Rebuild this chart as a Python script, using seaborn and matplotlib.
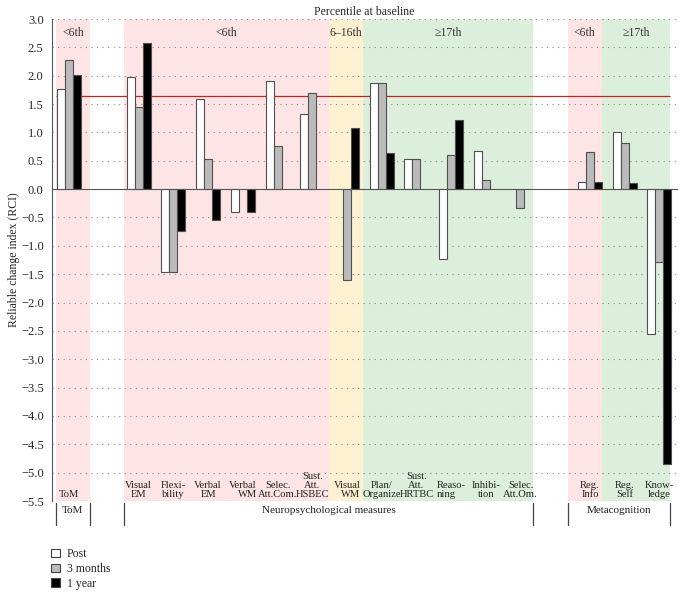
import matplotlib
matplotlib.use("Agg")
import matplotlib.pyplot as plt
import matplotlib.transforms as mtransforms
from matplotlib.patches import Patch
import seaborn as sns
import numpy as np
import pandas as pd

# -------------------------
# Data
# -------------------------
measures = ["ToM", "gap1", "Visual EM", "Flexibility", "Verbal EM", "Verbal WM",
            "Selec. Att.Com.", "Sust. Att. HSBEC", "Visual WM", "Plan/Organize",
            "Sust. Att. HRTBC", "Reasoning", "Inhibition", "Selec. Att.Om.",
            "gap2", "Reg. Info", "Reg. Self", "Knowledge"]
measure_labels = ["ToM", "", "Visual\nEM", "Flexi-\nbility", "Verbal\nEM", "Verbal\nWM",
                  "Selec.\nAtt.Com.", "Sust.\nAtt.\nHSBEC", "Visual\nWM", "Plan/\nOrganize",
                  "Sust.\nAtt.\nHRTBC", "Reaso-\nning", "Inhibi-\ntion", "Selec.\nAtt.Om.",
                  "", "Reg.\nInfo", "Reg.\nSelf", "Know-\nledge"]
label_align = ["center", "center", "center", "center", "center", "right",
               "center", "center", "right", "center",
               "center", "left", "center", "center",
               "center", "center", "center", "center"]

post = [1.76, np.nan, 1.97, -1.46, 1.59, -0.41, 1.90, 1.32, np.nan, 1.88,
        0.53, -1.23, 0.67, np.nan, np.nan, 0.13, 1.00, -2.56]
months3 = [2.27, np.nan, 1.44, -1.46, 0.53, np.nan, 0.76, 1.69, -1.60, 1.88,
           0.53, 0.61, 0.16, -0.34, np.nan, 0.66, 0.81, -1.28]
year1 = [2.02, np.nan, 2.58, -0.74, -0.54, -0.41, np.nan, np.nan, 1.07, 0.63,
         np.nan, 1.22, np.nan, np.nan, np.nan, 0.13, 0.11, -4.84]
timepoints = ["Post", "3 months", "1 year"]

# percentile bands: (first slot, last slot, label, colour)
bands = [(0, 0, "<6th", "#fee4e4"),
         (2, 7, "<6th", "#fee4e4"),
         (8, 8, "6\u201316th", "#fef1d2"),
         (9, 13, "\u226517th", "#dcefdb"),
         (15, 15, "<6th", "#fee4e4"),
         (16, 17, "\u226517th", "#dcefdb")]

# groups along the bottom: (first slot, last slot, label)
groups = [(0, 0, "ToM"), (1, 1, ""), (2, 13, "Neuropsychological measures"),
          (14, 14, ""), (15, 17, "Metacognition")]

rci_cutoff = 1.64

df = pd.DataFrame({
    "measure": np.repeat(measures, 3),
    "time": timepoints * len(measures),
    "rci": np.column_stack([post, months3, year1]).ravel(),
})


def edge(k):
    # band boundary k (0..18) in slot units
    return -0.39 + 0.983 * k


# -------------------------
# Plot
# -------------------------
sns.set_style("white")
plt.rcParams["font.family"] = ["Liberation Serif", "DejaVu Serif"]
plt.rcParams["axes.unicode_minus"] = True

fig = plt.figure(figsize=(6.84, 5.95), dpi=100)
ax = fig.add_axes([52 / 684, 1 - 501 / 595, 625 / 684, 482 / 595])

for a, b, lab, col in bands:
    ax.axvspan(edge(a), edge(b + 1), color=col, lw=0, zorder=0)
    ax.text((edge(a) + edge(b + 1)) / 2, 2.75, lab, ha="center", va="center",
            fontsize=8.5, color="#333333", zorder=4)

for yv in np.arange(-5.5, 3.01, 0.5):
    if abs(yv) > 1e-9:
        ax.axhline(yv, color="#8a8a8a", lw=0.8, ls=(0, (1, 4)), zorder=0.5)

ax.hlines(rci_cutoff, edge(0), edge(18), color="#b52a22", lw=0.9, zorder=1)

sns.barplot(data=df, x="measure", y="rci", hue="time", order=measures,
            hue_order=timepoints, palette=["white", "#bbbbbb", "black"],
            edgecolor="#505050", linewidth=0.8, width=0.69, errorbar=None,
            legend=False, ax=ax, zorder=2)

ax.set_xlim(-0.475, 17.51)
ax.set_ylim(-5.5, 3.0)
ax.set_yticks(np.arange(-5.5, 3.01, 0.5))
ax.set_yticklabels([f"{v:.1f}".replace("-", "\u2212") for v in np.arange(-5.5, 3.01, 0.5)])
ax.set_xticks(range(len(measures)))
ax.set_xticklabels([""] * len(measures))
ax.set_xticks(np.arange(-0.5, 17.6, 1.0), minor=True)
ax.tick_params(axis="x", which="both", direction="in", length=3, color="#555555")
ax.tick_params(axis="y", direction="out", length=4, color="#555555", labelsize=9, pad=2)
ax.grid(False)

for s in ["top", "right"]:
    ax.spines[s].set_visible(False)
ax.spines["bottom"].set_position(("data", 0))
ax.spines["bottom"].set_color("#555555")
ax.spines["left"].set_color("#555555")
ax.spines["bottom"].set_zorder(3)

ax.set_xlabel("")
ax.set_ylabel("Reliable change index (RCI)", fontsize=8.5, labelpad=1)
ax.set_title("Percentile at baseline", fontsize=8.5, pad=3)

for i, lab in enumerate(measure_labels):
    if lab:
        ax.text(i, -5.47, lab, ha="center", va="bottom", fontsize=7.6,
                multialignment=label_align[i], linespacing=1.0, color="#222222", zorder=4)

trans = mtransforms.blended_transform_factory(ax.transData, ax.transAxes)
for k in [0, 1, 2, 14, 15, 18]:
    ax.plot([edge(k), edge(k)], [-0.004, -0.05], transform=trans, color="#444444",
            lw=0.9, clip_on=False)
for a, b, lab in groups:
    if lab:
        ax.text((edge(a) + edge(b + 1)) / 2, -0.02, lab, transform=trans,
                ha="center", va="center", fontsize=8, color="#222222")

handles = [Patch(facecolor=c, edgecolor="#444444", lw=0.8)
           for c in ["white", "#bbbbbb", "black"]]
fig.legend(handles, timepoints, loc="upper left",
           bbox_to_anchor=(51 / 684, 1 - 548 / 595), frameon=False, fontsize=8.5,
           handlelength=0.75, handleheight=0.75, handletextpad=0.6,
           labelspacing=0.25, borderaxespad=0, borderpad=0)

fig.savefig("out.png", dpi=100)
